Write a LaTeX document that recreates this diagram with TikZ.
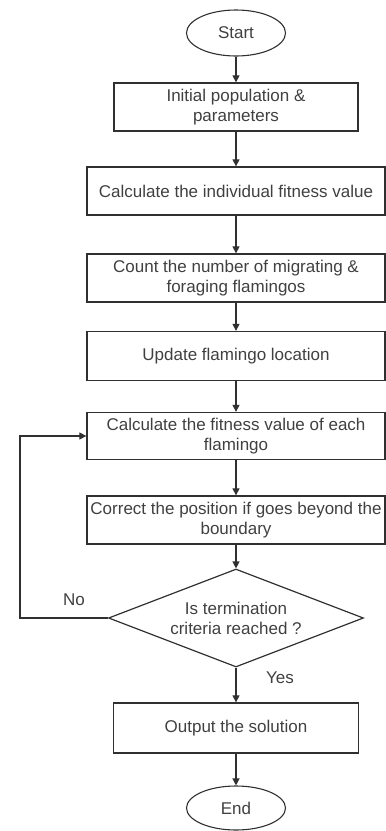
\documentclass[tikz,border=0pt]{standalone}
\usepackage{fontspec}
\setmainfont{Liberation Sans}
\usetikzlibrary{shapes.geometric, arrows.meta}
\definecolor{inkgray}{HTML}{404040}
\definecolor{linegray}{HTML}{303030}

\begin{document}
\begin{tikzpicture}[x=1pt, y=-1pt,
    every node/.style={text=inkgray, font=\fontsize{17}{20}\selectfont, align=center},
    box/.style={rectangle, draw=linegray, line width=1.3pt, inner sep=2pt},
    term/.style={ellipse, draw=linegray, line width=1.1pt, minimum width=99pt, minimum height=46pt, inner sep=0pt},
    decision/.style={diamond, draw=linegray, line width=1.2pt, aspect=2.6, inner sep=0pt, minimum width=255pt, minimum height=98pt},
    flow/.style={draw=linegray, line width=1.2pt, -{Triangle[length=7pt, width=7pt]}}]

    \useasboundingbox (0,0) rectangle (386,831);

    % terminals and steps
    \node[term] (start) at (236,33) {Start};
    \node[box, minimum width=244pt, minimum height=48pt] (init) at (236,107) {Initial population \&\\parameters};
    \node[box, minimum width=298pt, minimum height=48pt] (fitall) at (236,191) {Calculate the individual fitness value};
    \node[box, minimum width=298pt, minimum height=48pt] (count) at (236,278) {Count the number of migrating \&\\foraging flamingos};
    \node[box, minimum width=298pt, minimum height=49pt] (update) at (236,356) {Update flamingo location};
    \node[box, minimum width=298pt, minimum height=47pt] (fiteach) at (236,436) {Calculate the fitness value of each\\flamingo};
    \node[box, minimum width=298pt, minimum height=48pt] (correct) at (236,520) {Correct the position if goes beyond the\\boundary};
    \node[decision] (check) at (236,618) {Is termination\\criteria reached ?};
    \node[box, minimum width=245pt, minimum height=50pt] (output) at (236,728) {Output the solution};
    \node[term, minimum height=44pt] (finish) at (236,808) {End};

    % main flow
    \draw[flow] (start) -- (init);
    \draw[flow] (init) -- (fitall);
    \draw[flow] (fitall) -- (count);
    \draw[flow] (count) -- (update);
    \draw[flow] (update) -- (fiteach);
    \draw[flow] (fiteach) -- (correct);
    \draw[flow] (correct) -- (check);
    \draw[flow] (check) -- (output);
    \draw[flow] (output) -- (finish);

    % loop back when not reached
    \coordinate (back) at (20,618);
    \draw[flow] (check.west) -- (back) |- (fiteach.west);

    \node (no) at (74,600) {No};
    \node (yes) at (280,678) {Yes};

\end{tikzpicture}
\end{document}
